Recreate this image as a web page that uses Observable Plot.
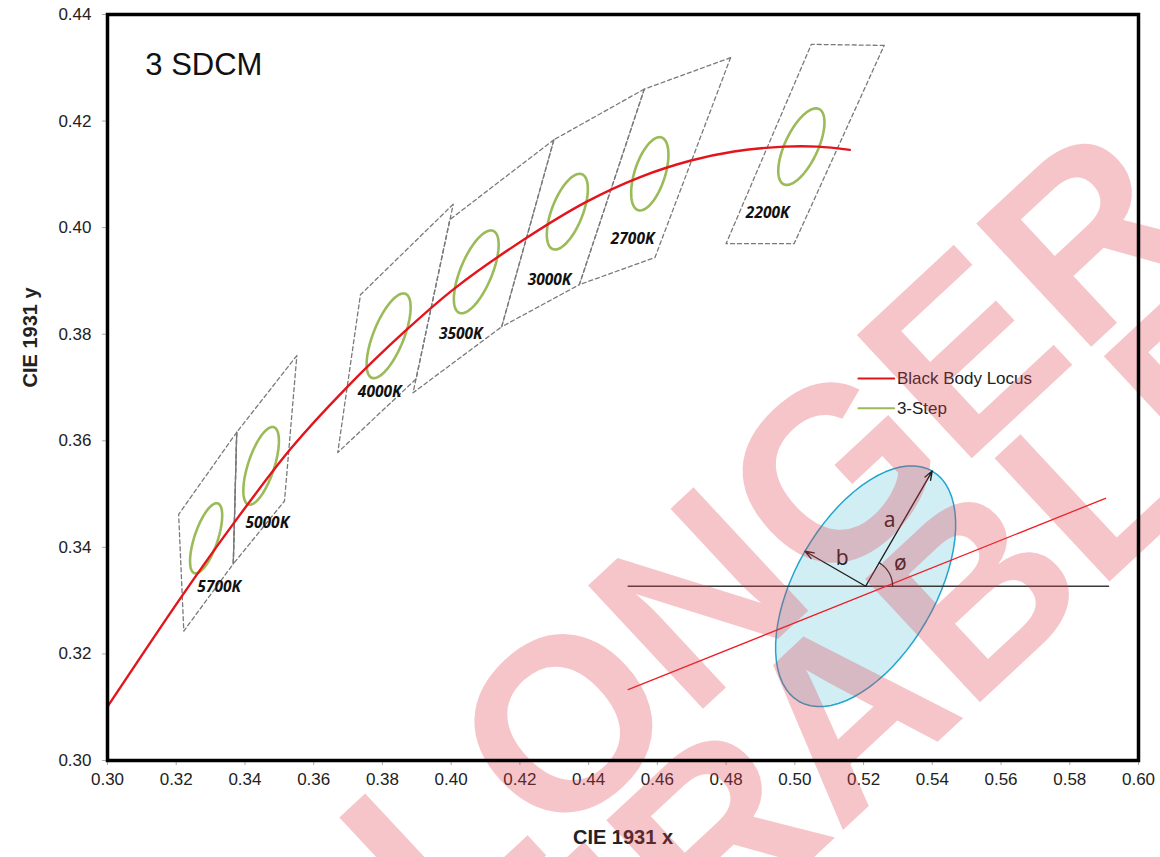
<!DOCTYPE html>
<html>
<head>
<meta charset="utf-8">
<script src="https://cdn.jsdelivr.net/npm/d3@7"></script>
<script src="https://cdn.jsdelivr.net/npm/@observablehq/plot@0.6"></script>
<style>
  html, body { margin: 0; padding: 0; background: #fff; }
  #chart svg { display: block; }
</style>
</head>
<body>
<div id="chart"></div>
<script>
// ---------------- DATA ----------------
const xTicks = [0.30,0.32,0.34,0.36,0.38,0.40,0.42,0.44,0.46,0.48,0.50,0.52,0.54,0.56,0.58,0.60];
const yTicks = [0.30,0.32,0.34,0.36,0.38,0.40,0.42,0.44];

// Black body locus (CIE 1931 x, y)
const locusX = [0.3000,0.3218,0.3367,0.3533,0.3693,0.3868,0.4014,0.4222,0.4392,0.4550,0.4698,0.4823,0.4969,0.5067,0.5160];
const locusY = [0.3101,0.3310,0.3445,0.3585,0.3698,0.3807,0.3888,0.3982,0.4048,0.4095,0.4126,0.4143,0.4152,0.4152,0.4146];

// CCT categories
const cctNames = ["5700K","5000K","4000K","3500K","3000K","2700K","2200K"];
// 3-step ellipses: centre, semi-axes, rotation (deg)
const ellCx    = [0.3287,0.3447,0.3818,0.4073,0.4338,0.4578,0.5019];
const ellCy    = [0.3417,0.3553,0.3797,0.3917,0.4030,0.4101,0.4152];
const ellA     = [0.00744,0.00822,0.00939,0.00927,0.00834,0.00774,0.00890];
const ellB     = [0.00315,0.00354,0.00402,0.00414,0.00408,0.00411,0.00420];
const ellTheta = [59.09,59.37,54.00,52.58,53.13,57.28,48.0];

// Quadrangle corners (x list, y list per CCT)
const quadX = [
  [0.3376,0.3207,0.3222,0.3366],
  [0.3551,0.3376,0.3366,0.3515],
  [0.4006,0.3736,0.3670,0.3898],
  [0.4299,0.3996,0.3889,0.4147],
  [0.4562,0.4299,0.4147,0.4373],
  [0.4813,0.4562,0.4373,0.4593],
  [0.5260,0.5048,0.4800,0.4998]
];
const quadY = [
  [0.3616,0.3462,0.3243,0.3369],
  [0.3760,0.3616,0.3369,0.3487],
  [0.4044,0.3874,0.3578,0.3716],
  [0.4165,0.4015,0.3690,0.3814],
  [0.4260,0.4165,0.3814,0.3893],
  [0.4319,0.4260,0.3893,0.3944],
  [0.4342,0.4344,0.3970,0.3970]
];
// CCT label anchor points
const labelX = [0.3325,0.3465,0.3792,0.4028,0.4286,0.4528,0.4921];
const labelY = [0.3326,0.3446,0.3691,0.3801,0.3902,0.3978,0.4027];

const seriesNames = ["Black Body Locus","3-Step"];

// ---------------- BUILD TABLES ----------------
const locus = locusX.map((x,i)=>({x, y: locusY[i]}));

const ellipses = [];
cctNames.forEach((name,i)=>{
  const th = ellTheta[i]*Math.PI/180;
  for (let k=0;k<=72;k++){
    const t = k*5*Math.PI/180;
    ellipses.push({name,
      x: ellCx[i] + ellA[i]*Math.cos(th)*Math.cos(t) - ellB[i]*Math.sin(th)*Math.sin(t),
      y: ellCy[i] + ellA[i]*Math.sin(th)*Math.cos(t) + ellB[i]*Math.cos(th)*Math.sin(t)});
  }
});

const quads = [];
cctNames.forEach((name,i)=>{
  for (let k=0;k<=4;k++) quads.push({name, x: quadX[i][k%4], y: quadY[i][k%4]});
});
const sharedEdge = [{x: quadX[0][0], y: quadY[0][0]},{x: quadX[0][3], y: quadY[0][3]}];

const labels = cctNames.map((name,i)=>({name, x: labelX[i], y: labelY[i]}));

// ---------------- INSET DIAGRAM (ellipse parameters a, b, ø) ----------------
const inC = [0.5206, 0.3327];             // centre
const inMajor = [0.01937, 0.02162];       // semi-major axis vector
const inMinor = [-0.01765, 0.00657];      // semi-minor axis vector
const inEllipse = d3.range(0,73).map(k=>{
  const t = k*5*Math.PI/180;
  return {x: inC[0] + inMajor[0]*Math.cos(t) + inMinor[0]*Math.sin(t),
          y: inC[1] + inMajor[1]*Math.cos(t) + inMinor[1]*Math.sin(t)};
});
const inArc = d3.range(0,13).map(k=>{
  const p = k*5*Math.PI/180;
  return {x: inC[0] + 0.00786*Math.cos(p), y: inC[1] + 0.00507*Math.sin(p)};
});
const inHoriz = [{x:0.4515,y:inC[1]},{x:0.5913,y:inC[1]}];
const inRed = [{x:0.4515,y:0.3133},{x:0.5904,y:0.3492}];
const inArrows = [
  {x1: inC[0], y1: inC[1], x2: inC[0]+inMajor[0], y2: inC[1]+inMajor[1]},
  {x1: inC[0], y1: inC[1], x2: inC[0]+inMinor[0], y2: inC[1]+inMinor[1]}
];
const inLabels = [
  {t:"a", x:0.5276, y:0.3450},
  {t:"b", x:0.5138, y:0.3379},
  {t:"ø", x:0.5307, y:0.3370}
];

// legend rows
const legendRows = [
  {name: seriesNames[0], y: 0.3717},
  {name: seriesNames[1], y: 0.3661}
];
const legendLines = [];
legendRows.forEach(r=>{ legendLines.push({name:r.name,x:0.5185,y:r.y}); legendLines.push({name:r.name,x:0.5289,y:r.y}); });

// watermark
const watermark = [
  {t:"NO LONGER", x:0.4470, y:0.3140},
  {t:"ORDERABLE", x:0.4740, y:0.2830}
];

const font = "'Liberation Sans', Arial, Helvetica, sans-serif";

const chart = Plot.plot({
  width: 1160,
  height: 857,
  marginLeft: 107,
  marginRight: 22,
  marginTop: 14,
  marginBottom: 97,
  style: {fontFamily: font, fontSize: "17px", color: "#222", background: "#fff", overflow: "hidden"},
  x: {domain: [0.30, 0.60], axis: null},
  y: {domain: [0.30, 0.44], axis: null},
  marks: [
    Plot.axisX({ticks: xTicks, tickFormat: d3.format(".2f"), tickSize: 5, tickPadding: 7, label: null, fontSize: 17, stroke: "#aaa"}),
    Plot.axisY({ticks: yTicks, tickFormat: d3.format(".2f"), tickSize: 5, tickPadding: 11, label: null, fontSize: 17, stroke: "#aaa"}),
    Plot.text(["CIE 1931 x"], {frameAnchor: "bottom", dy: 83, text: d=>d, fontSize: 20, fontWeight: "bold", fill: "#222"}),
    Plot.text(["CIE 1931 y"], {frameAnchor: "left", dx: -77, rotate: -90, text: d=>d, fontSize: 20, fontWeight: "bold", fill: "#222"}),

    // inset diagram
    Plot.line(inEllipse, {x:"x", y:"y", fill:"#d2eef5", stroke:"#21a6cf", strokeWidth:1.5}),
    Plot.line(inHoriz, {x:"x", y:"y", stroke:"#3a3a3a", strokeWidth:1.3}),
    Plot.line(inRed, {x:"x", y:"y", stroke:"#ee1c25", strokeWidth:1.3}),
    Plot.arrow(inArrows, {x1:"x1", y1:"y1", x2:"x2", y2:"y2", stroke:"#231f20", strokeWidth:1.4, headLength:10, headAngle:40}),
    Plot.line(inArc, {x:"x", y:"y", stroke:"#231f20", strokeWidth:1.2}),
    Plot.text(inLabels, {x:"x", y:"y", text:"t", fontSize:21, fill:"#231f20", fontFamily:"'Noto Sans', 'Open Sans', sans-serif"}),

    // quadrangles
    Plot.line(quads, {x:"x", y:"y", z:"name", stroke:"#7a7a7a", strokeWidth:1.3, strokeDasharray:"4,3"}),
    Plot.line(sharedEdge, {x:"x", y:"y", stroke:"#7a7a7a", strokeWidth:1.3}),
    // 3-step ellipses
    Plot.line(ellipses, {x:"x", y:"y", z:"name", stroke:"#9bbb59", strokeWidth:2.6}),
    // locus
    Plot.line(locus, {x:"x", y:"y", stroke:"#e3141b", strokeWidth:2.4, curve:"catmull-rom"}),
    // CCT labels
    Plot.text(labels, {x:"x", y:"y", text:"name", fontSize:15.5, fontWeight:"bold", fontStyle:"italic", fill:"#111", fontFamily:"'Open Sans', 'Noto Sans', sans-serif"}),

    // legend
    Plot.line(legendLines, {x:"x", y:"y", z:"name", stroke:d=>d.name===seriesNames[0]?"#e3141b":"#9bbb59", strokeWidth:2}),
    Plot.text(legendRows, {x:()=>0.5297, y:"y", text:"name", textAnchor:"start", fontSize:17, fill:"#222"}),

    // title inside plot
    Plot.text(["3 SDCM"], {x:()=>0.3110, y:()=>0.4306, text:d=>d, textAnchor:"start", fontSize:31, fill:"#111"}),

    // watermark
    Plot.text(watermark, {x:"x", y:"y", text:"t", rotate:-43, fontSize:245, fontWeight:"bold", fill:"#e0404c", fillOpacity:0.3, textAnchor:"middle", fontFamily: font}),

    Plot.frame({stroke:"#000", strokeWidth:3.5})
  ]
});
document.getElementById("chart").appendChild(chart);
</script>
</body>
</html>
